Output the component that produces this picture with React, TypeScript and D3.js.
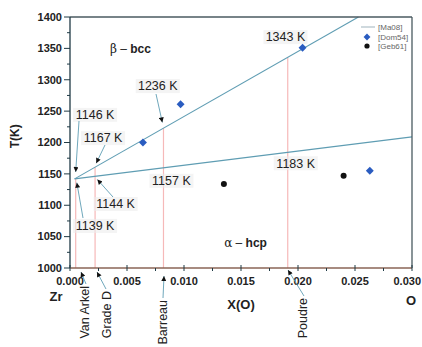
import React from 'react'
import * as d3 from 'd3'

// courbes de transus [Ma08] (X(O), T)
const betaTransusX = [0.0004, 0.0253]
const betaTransusT = [1142, 1400]
const alphaTransusX = [0.0004, 0.03]
const alphaTransusT = [1142, 1209]

// points experimentaux
const dom54X = [0.0064, 0.0097, 0.0204, 0.0263]
const dom54T = [1200, 1261, 1351, 1155]
const geb61X = [0.0135, 0.024]
const geb61T = [1134, 1147]

// nuances (lignes verticales)
const sampleNames = ['Van Arkel', 'Grade D', 'Barreau', 'Poudre']
const sampleX = [0.0005, 0.0022, 0.0082, 0.0191]

// etiquettes de temperature
const tempLabels = ['1146 K', '1167 K', '1144 K', '1139 K', '1236 K', '1343 K', '1183 K', '1157 K']
const tempLabelX = [0.0022, 0.0029, 0.0040, 0.0022, 0.0077, 0.0189, 0.0198, 0.0089]
const tempLabelT = [1244, 1207, 1102, 1067, 1290, 1368, 1167, 1139]

const yTicks = [1000, 1050, 1100, 1150, 1200, 1250, 1300, 1350, 1400]
const xTicks = [0, 0.005, 0.01, 0.015, 0.02, 0.025, 0.03]

const W = 422
const H = 347
const margin = { top: 17, right: 10, bottom: 79, left: 70 }

export default function App() {
  const x = d3.scaleLinear().domain([0, 0.03]).range([margin.left, W - margin.right])
  const y = d3.scaleLinear().domain([1000, 1400]).range([H - margin.bottom, margin.top])
  const line = d3.line<[number, number]>().x(d => x(d[0])).y(d => y(d[1]))

  const betaAt = (v: number) =>
    betaTransusT[0] + ((v - betaTransusX[0]) * (betaTransusT[1] - betaTransusT[0])) / (betaTransusX[1] - betaTransusX[0])

  const x0 = x(0)
  const x1 = x(0.03)
  const y0 = y(1000)
  const y1 = y(1400)

  const minorY = d3.range(1025, 1400, 50)
  const minorX = d3.range(0.0025, 0.03, 0.005)
  const font = 'Liberation Sans, Arial, sans-serif'
  const teal = '#5f9db3'

  // fleches des etiquettes : [x1,y1,x2,y2] en pixels autour des points du diagramme
  const leaders: [number, number, number, number][] = [
    [79, 121, x(0.0005), y(1153)],
    [105, 145, x(0.0023), y(1167)],
    [113, 197, x(0.0024), y(1141)],
    [83, 218, x(0.0006), y(1136)],
    [156, 94, x(0.0081), y(1232)],
  ]
  const sampleLeaders: [number, number, number, number][] = [
    [86, 284, 81, y0 + 4],
    [106, 289, 97, y0 + 4],
    [163, 298, 164, y0 + 8],
    [304, 296, 288, y0 + 2],
  ]
  const sampleLabelX = [85, 107, 163, 303]
  const sampleLabelTop = [286, 291, 300, 298]

  return (
    <svg width={W} height={H} style={{ position: 'absolute', left: 0, top: 0, background: '#fff' }}>
      <defs>
        <marker id="arr" viewBox="0 0 10 10" refX="10" refY="5" markerWidth="6" markerHeight="5" markerUnits="userSpaceOnUse" orient="auto">
          <path d="M0,0L10,5L0,10z" fill="#111" />
        </marker>
      </defs>

      {/* lignes verticales des nuances */}
      {sampleX.map((v, i) => (
        <line key={sampleNames[i]} x1={x(v)} x2={x(v)} y1={y0} y2={y(i === 0 ? 1142 : betaAt(v))} stroke="#f6b9b9" strokeWidth={1.2} />
      ))}

      {/* transus */}
      <path d={line(betaTransusX.map((v, i) => [v, betaTransusT[i]]) as [number, number][]) || ''} stroke={teal} strokeWidth={1.1} fill="none" />
      <path d={line(alphaTransusX.map((v, i) => [v, alphaTransusT[i]]) as [number, number][]) || ''} stroke={teal} strokeWidth={1.1} fill="none" />

      {/* cadre */}
      <line x1={x0} x2={x1} y1={y1} y2={y1} stroke="#4a5a60" strokeWidth={1.3} />
      <line x1={x1} x2={x1} y1={y1} y2={y0} stroke="#4a5a60" strokeWidth={1.3} />
      <line x1={x0} x2={x0} y1={y1} y2={y0} stroke="#1f3a45" strokeWidth={1.3} />
      <line x1={x0} x2={x1} y1={y0} y2={y0} stroke="#8a6456" strokeWidth={1.3} />

      {/* axe Y */}
      {yTicks.map(t => (
        <g key={t}>
          <line x1={x0 - 6} x2={x0} y1={y(t)} y2={y(t)} stroke="#1f3a45" />
          <text x={x0 - 8} y={y(t)} dy="0.35em" textAnchor="end" fontFamily={font} fontWeight="bold" fontSize={11} fill="#222">{t}</text>
        </g>
      ))}
      {minorY.map(t => (
        <line key={t} x1={x0 - 3} x2={x0} y1={y(t)} y2={y(t)} stroke="#1f3a45" />
      ))}

      {/* axe X */}
      {xTicks.map((t, i) => (
        <g key={t}>
          <line x1={x(t)} x2={x(t)} y1={y0 - 3} y2={y0 + 3} stroke="#1f3a45" />
          <text
            x={i === xTicks.length - 1 ? W - 1 : x(t)}
            y={y0 + 13}
            dy="0.35em"
            textAnchor={i === xTicks.length - 1 ? 'end' : 'middle'}
            fontFamily={font}
            fontWeight="bold"
            fontSize={11}
            fill="#222"
          >
            {d3.format('.3f')(t)}
          </text>
        </g>
      ))}
      {minorX.map(t => (
        <line key={t} x1={x(t)} x2={x(t)} y1={y0} y2={y0 + 3} stroke="#1f3a45" />
      ))}

      {/* titres des axes */}
      <text transform={`translate(15,${y(1210)}) rotate(-90)`} textAnchor="middle" dy="0.35em" fontFamily={font} fontWeight="bold" fontSize={12} fill="#222">T(K)</text>
      <text x={241} y={304} dy="0.35em" textAnchor="middle" fontFamily={font} fontWeight="bold" fontSize={13} fill="#222">X(O)</text>
      <text x={56} y={296} dy="0.35em" textAnchor="middle" fontFamily={font} fontWeight="bold" fontSize={13} fill="#222">Zr</text>
      <text x={411} y={300} dy="0.35em" textAnchor="middle" fontFamily={font} fontWeight="bold" fontSize={13} fill="#222">O</text>

      {/* domaines */}
      <text x={x(0.0053)} y={y(1350)} dy="0.35em" textAnchor="middle" fontFamily={font} fontSize={12} fill="#222">
        <tspan fontFamily="DejaVu Serif, serif">β</tspan> – <tspan fontWeight="bold">bcc</tspan>
      </text>
      <text x={x(0.0154)} y={y(1040)} dy="0.35em" textAnchor="middle" fontFamily={font} fontSize={12} fill="#222">
        <tspan fontFamily="DejaVu Serif, serif">α</tspan> – <tspan fontWeight="bold">hcp</tspan>
      </text>

      {/* etiquettes de temperature */}
      {tempLabels.map((l, i) => (
        <g key={l}>
          <rect x={x(tempLabelX[i]) - 22} y={y(tempLabelT[i]) - 7} width={44} height={14} fill="#ececec" opacity={0.6} />
          <text x={x(tempLabelX[i])} y={y(tempLabelT[i])} dy="0.35em" textAnchor="middle" fontFamily={font} fontSize={12.5} fill="#222">{l}</text>
        </g>
      ))}
      {leaders.map((d, i) => (
        <line key={i} x1={d[0]} y1={d[1]} x2={d[2]} y2={d[3]} stroke={teal} strokeWidth={0.9} markerEnd="url(#arr)" />
      ))}

      {/* nuances sous l'axe */}
      {sampleLeaders.map((d, i) => (
        <line key={i} x1={d[0]} y1={d[1]} x2={d[2]} y2={d[3]} stroke={teal} strokeWidth={0.9} markerEnd="url(#arr)" />
      ))}
      {sampleNames.map((n, i) => (
        <text key={n} transform={`translate(${sampleLabelX[i]},${sampleLabelTop[i]}) rotate(-90)`} textAnchor="end" dy="0.35em" fontFamily={font} fontSize={12.5} fill="#222">{n}</text>
      ))}

      {/* points */}
      {dom54X.map((v, i) => (
        <path key={i} d={d3.symbol(d3.symbolDiamond2, 40)() || ''} transform={`translate(${x(v)},${y(dom54T[i])})`} fill="#2a5cc0" />
      ))}
      {geb61X.map((v, i) => (
        <circle key={i} cx={x(v)} cy={y(geb61T[i])} r={3} fill="#111" />
      ))}

      {/* legende */}
      <g fontFamily={font} fontSize={8} fill="#666">
        <line x1={361} x2={375} y1={27} y2={27} stroke="#9fb3bd" />
        <text x={378} y={27} dy="0.35em">[Ma08]</text>
        <path d={d3.symbol(d3.symbolDiamond2, 30)() || ''} transform="translate(367,37)" fill="#2a5cc0" />
        <text x={378} y={37} dy="0.35em">[Dom54]</text>
        <circle cx={367} cy={46} r={2.6} fill="#111" />
        <text x={378} y={46} dy="0.35em">[Geb61]</text>
      </g>
    </svg>
  )
}
